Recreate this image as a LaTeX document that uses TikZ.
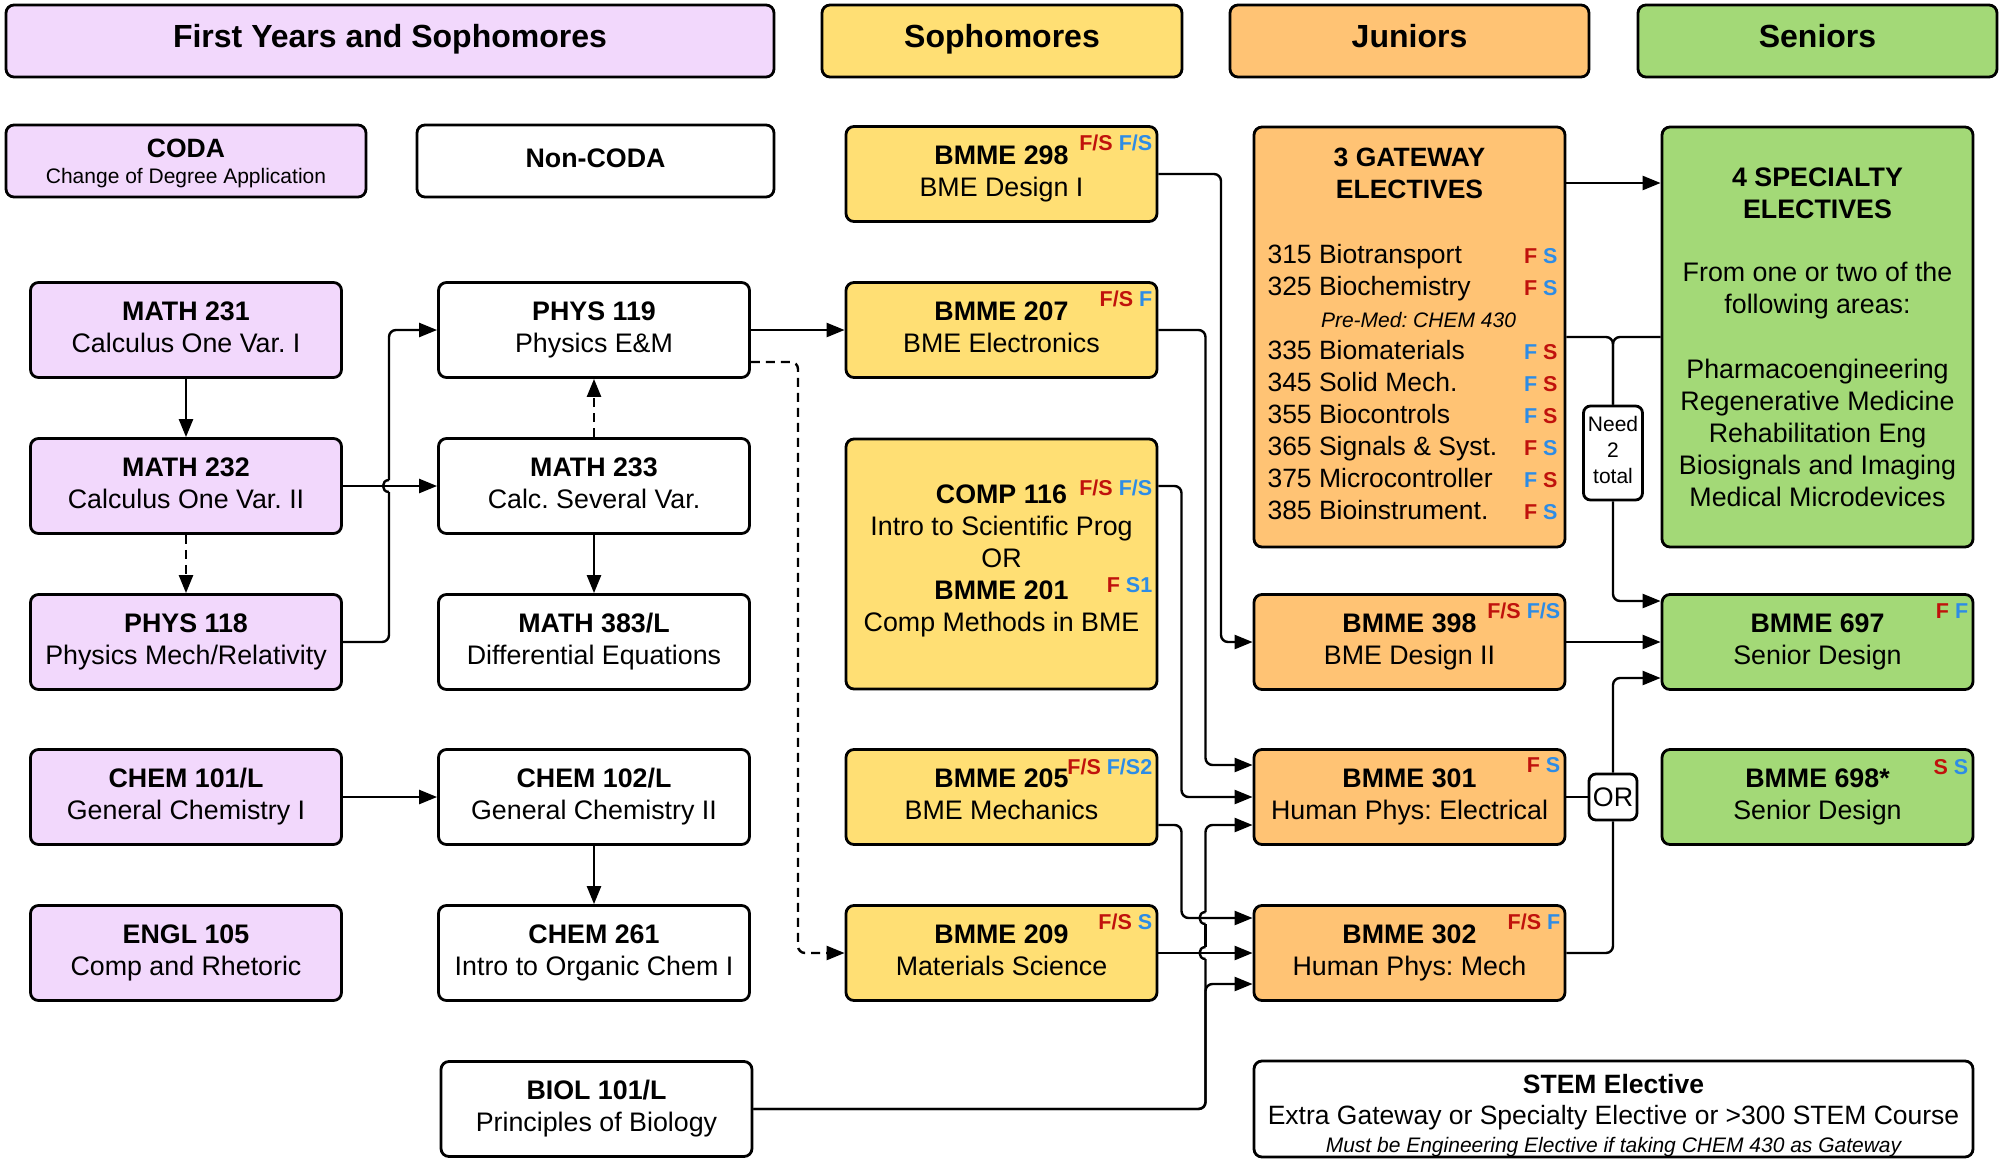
\documentclass[tikz,border=0pt]{standalone}
\usepackage{fontspec}
\setmainfont{Liberation Sans}
\usetikzlibrary{arrows.meta}
\definecolor{cpurp}{HTML}{F2D8FC}
\definecolor{cyel}{HTML}{FFDF74}
\definecolor{corg}{HTML}{FFC374}
\definecolor{cgrn}{HTML}{A3D977}
\definecolor{cred}{HTML}{C0120C}
\definecolor{cblue}{HTML}{2D8CE6}
\newcommand\tgr[1]{\textcolor{cred}{#1}}
\newcommand\tgb[1]{\textcolor{cblue}{#1}}
\newcommand\tgfont{\fontsize{21.5}{25}\selectfont\bfseries}
\newcommand\smallit{\fontsize{21}{24}\selectfont\itshape}
\frenchspacing
\begin{document}
\frenchspacing
\begin{tikzpicture}[x=1pt,y=-1pt,
  box/.style={draw=black, line width=2.8pt, rounded corners=8pt, align=center, inner sep=0pt,
    minimum width=311pt, minimum height=95pt, text depth=5.6pt, font=\fontsize{26.8}{32}\selectfont},
  P/.style={box, fill=cpurp}, W/.style={box, fill=white}, Y/.style={box, fill=cyel},
  O/.style={box, fill=corg}, G/.style={box, fill=cgrn},
  hdr/.style={box, minimum height=72pt, text depth=11pt, font=\fontsize{32}{38}\selectfont\bfseries},
  tg/.style={inner sep=0pt, anchor=east, font=\tgfont},
  ln/.style={line width=2.4pt},
  arr/.style={ln, -{Triangle[length=18pt,width=14pt]}},
  dashd/.style={dash pattern=on 9pt off 6pt}]
\fill[white] (0,0) rectangle (2005,1160);
\useasboundingbox (0,0) rectangle (2005,1160);

% headers
\node[hdr, fill=cpurp, minimum width=768pt] (h1) at (390,41) {First Years and Sophomores};
\node[hdr, fill=cyel, minimum width=360pt] (h2) at (1002,41) {Sophomores};
\node[hdr, fill=corg, minimum width=359pt] (h3) at (1409.5,41) {Juniors};
\node[hdr, fill=cgrn, minimum width=359pt] (h4) at (1817.5,41) {Seniors};

% row 1
\node[P, minimum width=360pt, minimum height=72pt, text depth=4.4pt, font=\fontsize{26.5}{26}\selectfont] (coda) at (186,161)
  {\rule{0pt}{24.2pt}\textbf{CODA}\\{\fontsize{21}{25}\selectfont Change of Degree Application}};
\node[W, minimum width=357pt, minimum height=72pt] (noncoda) at (595.5,161) {\textbf{Non-CODA}};

% column 1
\node[P] (m231) at (186,330) {\textbf{MATH 231}\\Calculus One Var. I};
\node[P] (m232) at (186,486) {\textbf{MATH 232}\\Calculus One Var. II};
\node[P] (p118) at (186,642) {\textbf{PHYS 118}\\Physics Mech/Relativity};
\node[P] (c101) at (186,797) {\textbf{CHEM 101/L}\\General Chemistry I};
\node[P] (e105) at (186,953) {\textbf{ENGL 105}\\Comp and Rhetoric};

% column 2
\node[W] (p119) at (594,330) {\textbf{PHYS 119}\\Physics E\&M};
\node[W] (m233) at (594,486) {\textbf{MATH 233}\\Calc. Several Var.};
\node[W] (m383) at (594,642) {\textbf{MATH 383/L}\\Differential Equations};
\node[W] (c102) at (594,797) {\textbf{CHEM 102/L}\\General Chemistry II};
\node[W] (c261) at (594,953) {\textbf{CHEM 261}\\Intro to Organic Chem I};
\node[W] (biol) at (596.5,1109) {\textbf{BIOL 101/L}\\Principles of Biology};

% column 3
\node[Y] (b298) at (1001.5,174) {\textbf{BMME 298}\\BME Design I};
\node[Y] (b207) at (1001.5,330) {\textbf{BMME 207}\\BME Electronics};
\node[Y, minimum height=250pt, text depth=10.8pt] (c116) at (1001.5,564)
  {\textbf{COMP 116}\\Intro to Scientific Prog\\OR\\\textbf{BMME 201}\\Comp Methods in BME};
\node[Y] (b205) at (1001.5,797) {\textbf{BMME 205}\\BME Mechanics};
\node[Y] (b209) at (1001.5,953) {\textbf{BMME 209}\\Materials Science};

% column 4
\node[O, minimum height=420pt, text depth=6pt, font=\fontsize{26.5}{32}\selectfont] (gate) at (1409.5,337)
  {\textbf{3 GATEWAY}\\\textbf{ELECTIVES}\\[33pt]
   \hbox to 296pt{\hskip6pt 315 Biotransport\hfil{\tgfont\tgr{F} \tgb{S}}}\\
   \hbox to 296pt{\hskip6pt 325 Biochemistry\hfil{\tgfont\tgr{F} \tgb{S}}}\\
   \hbox to 296pt{\hfil\hskip18pt{\smallit Pre-Med: CHEM 430}\hfil}\\
   \hbox to 296pt{\hskip6pt 335 Biomaterials\hfil{\tgfont\tgb{F} \tgr{S}}}\\
   \hbox to 296pt{\hskip6pt 345 Solid Mech.\hfil{\tgfont\tgb{F} \tgr{S}}}\\
   \hbox to 296pt{\hskip6pt 355 Biocontrols\hfil{\tgfont\tgb{F} \tgr{S}}}\\
   \hbox to 296pt{\hskip6pt 365 Signals \& Syst.\hfil{\tgfont\tgr{F} \tgb{S}}}\\
   \hbox to 296pt{\hskip6pt 375 Microcontroller\hfil{\tgfont\tgb{F} \tgr{S}}}\\
   \hbox to 296pt{\hskip6pt 385 Bioinstrument.\hfil{\tgfont\tgr{F} \tgb{S}}}};
\node[O] (b398) at (1409.5,642) {\textbf{BMME 398}\\BME Design II};
\node[O] (b301) at (1409.5,797) {\textbf{BMME 301}\\Human Phys: Electrical};
\node[O] (b302) at (1409.5,953) {\textbf{BMME 302}\\Human Phys: Mech};
\node[W, minimum width=719pt, minimum height=96pt, text depth=4.4pt, font=\fontsize{26.5}{31}\selectfont] (stem) at (1613.5,1109)
  {\rule{0pt}{32pt}\textbf{STEM Elective}\\Extra Gateway or Specialty Elective or >300 STEM Course\\[-3pt]
   {\smallit Must be Engineering Elective if taking CHEM 430 as Gateway}};

% column 5
\node[G, minimum height=420pt, text depth=0pt] (spec) at (1817.5,337)
  {\textbf{4 SPECIALTY}\\\textbf{ELECTIVES}\\[31pt]
   From one or two of the\\following areas:\\[33pt]
   Pharmacoengineering\\Regenerative Medicine\\Rehabilitation Eng\\Biosignals and Imaging\\Medical Microdevices};
\node[G] (b697) at (1817.5,642) {\textbf{BMME 697}\\Senior Design};
\node[G] (b698) at (1817.5,797) {\textbf{BMME 698*}\\Senior Design};

% small boxes
\node[W, minimum width=59pt, minimum height=94pt, rounded corners=7pt, font=\fontsize{21}{26}\selectfont] (need) at (1613,453) {Need\\2\\total};
\node[W, minimum width=48pt, minimum height=46pt, rounded corners=7pt, text depth=0pt] (orbox) at (1613,797) {OR};

% semester tags
\node[tg] (t298) at ([xshift=-6pt,yshift=-18pt]b298.north east) {\tgr{F/S} \tgb{F/S}};
\node[tg] (t207) at ([xshift=-6pt,yshift=-18pt]b207.north east) {\tgr{F/S} \tgb{F}};
\node[tg] (t116a) at ([xshift=-6pt,yshift=-50pt]c116.north east) {\tgr{F/S} \tgb{F/S}};
\node[tg] (t116b) at ([xshift=-6pt,yshift=-147.5pt]c116.north east) {\tgr{F} \tgb{S1}};
\node[tg] (t205) at ([xshift=-6pt,yshift=-19pt]b205.north east) {\tgr{F/S} \tgb{F/S2}};
\node[tg] (t209) at ([xshift=-6pt,yshift=-18pt]b209.north east) {\tgr{F/S} \tgb{S}};
\node[tg] (t398) at ([xshift=-6pt,yshift=-18pt]b398.north east) {\tgr{F/S} \tgb{F/S}};
\node[tg] (t301) at ([xshift=-6pt,yshift=-17pt]b301.north east) {\tgr{F} \tgb{S}};
\node[tg] (t302) at ([xshift=-6pt,yshift=-18pt]b302.north east) {\tgr{F/S} \tgb{F}};
\node[tg] (t697) at ([xshift=-6pt,yshift=-18pt]b697.north east) {\tgr{F} \tgb{F}};
\node[tg] (t698) at ([xshift=-6pt,yshift=-19pt]b698.north east) {\tgr{S} \tgb{S}};

% connectors, first years
\draw[arr] (m231.south) -- (m232.north);
\draw[arr, dashd] (m232.south) -- (p118.north);
\draw[arr] (m232.east) -- (m233.west);
\draw[ln, rounded corners=7pt] (p118.east) -| (389,492);
\draw[ln] (389,492) .. controls (381,492) and (381,480) .. (389,480);
\draw[arr, rounded corners=7pt] (389,480) |- (p119.west);
\draw[arr, dashd] (m233.north) -- (p119.south);
\draw[arr] (m233.south) -- (m383.north);
\draw[arr] (c101.east) -- (c102.west);
\draw[arr] (c102.south) -- (c261.north);

% to sophomores
\draw[arr] (p119.east) -- (b207.west);
\draw[arr, dashd, rounded corners=7pt] ([yshift=-32pt]p119.east) -| (798,953) -- (b209.west);

% to juniors
\draw[arr, rounded corners=7pt] (b298.east) -| (1221,642) -- (b398.west);
\draw[arr, rounded corners=7pt] (b207.east) -| (1205.5,765) -- ([yshift=32pt]b301.west);
\draw[arr, rounded corners=7pt] ([yshift=78pt]c116.east) -| (1181.5,797) -- (b301.west);
\draw[arr, rounded corners=7pt] ([yshift=-28pt]b205.east) -| (1181.5,918) -- ([yshift=35pt]b302.west);
\draw[arr] (b209.east) -- (b302.west);
\draw[arr, rounded corners=7pt] (biol.east) -| (1205.5,984) -- ([yshift=-31pt]b302.west);
\draw[ln, rounded corners=7pt] (biol.east) -| (1205.5,959);
\draw[ln] (1205.5,959) .. controls (1197.5,959) and (1197.5,947) .. (1205.5,947);
\draw[ln] (1205.5,947) -- (1205.5,924);
\draw[ln] (1205.5,924) .. controls (1197.5,924) and (1197.5,912) .. (1205.5,912);
\draw[arr, rounded corners=7pt] (1205.5,912) |- ([yshift=-28pt]b301.west);

% to seniors
\draw[arr] ([yshift=154pt]gate.east) -- ([yshift=154pt]spec.west);
\draw[ln, rounded corners=7pt] (gate.east) -| (need.north);
\draw[ln, rounded corners=7pt] (spec.west) -| (need.north);
\draw[arr, rounded corners=7pt] (need.south) |- ([yshift=41pt]b697.west);
\draw[arr] (b398.east) -- (b697.west);
\draw[ln] (b301.east) -- (orbox.west);
\draw[ln, rounded corners=7pt] (b302.east) -| (orbox.south);
\draw[arr, rounded corners=7pt] (orbox.north) |- ([yshift=-36pt]b697.west);
\end{tikzpicture}
\end{document}
